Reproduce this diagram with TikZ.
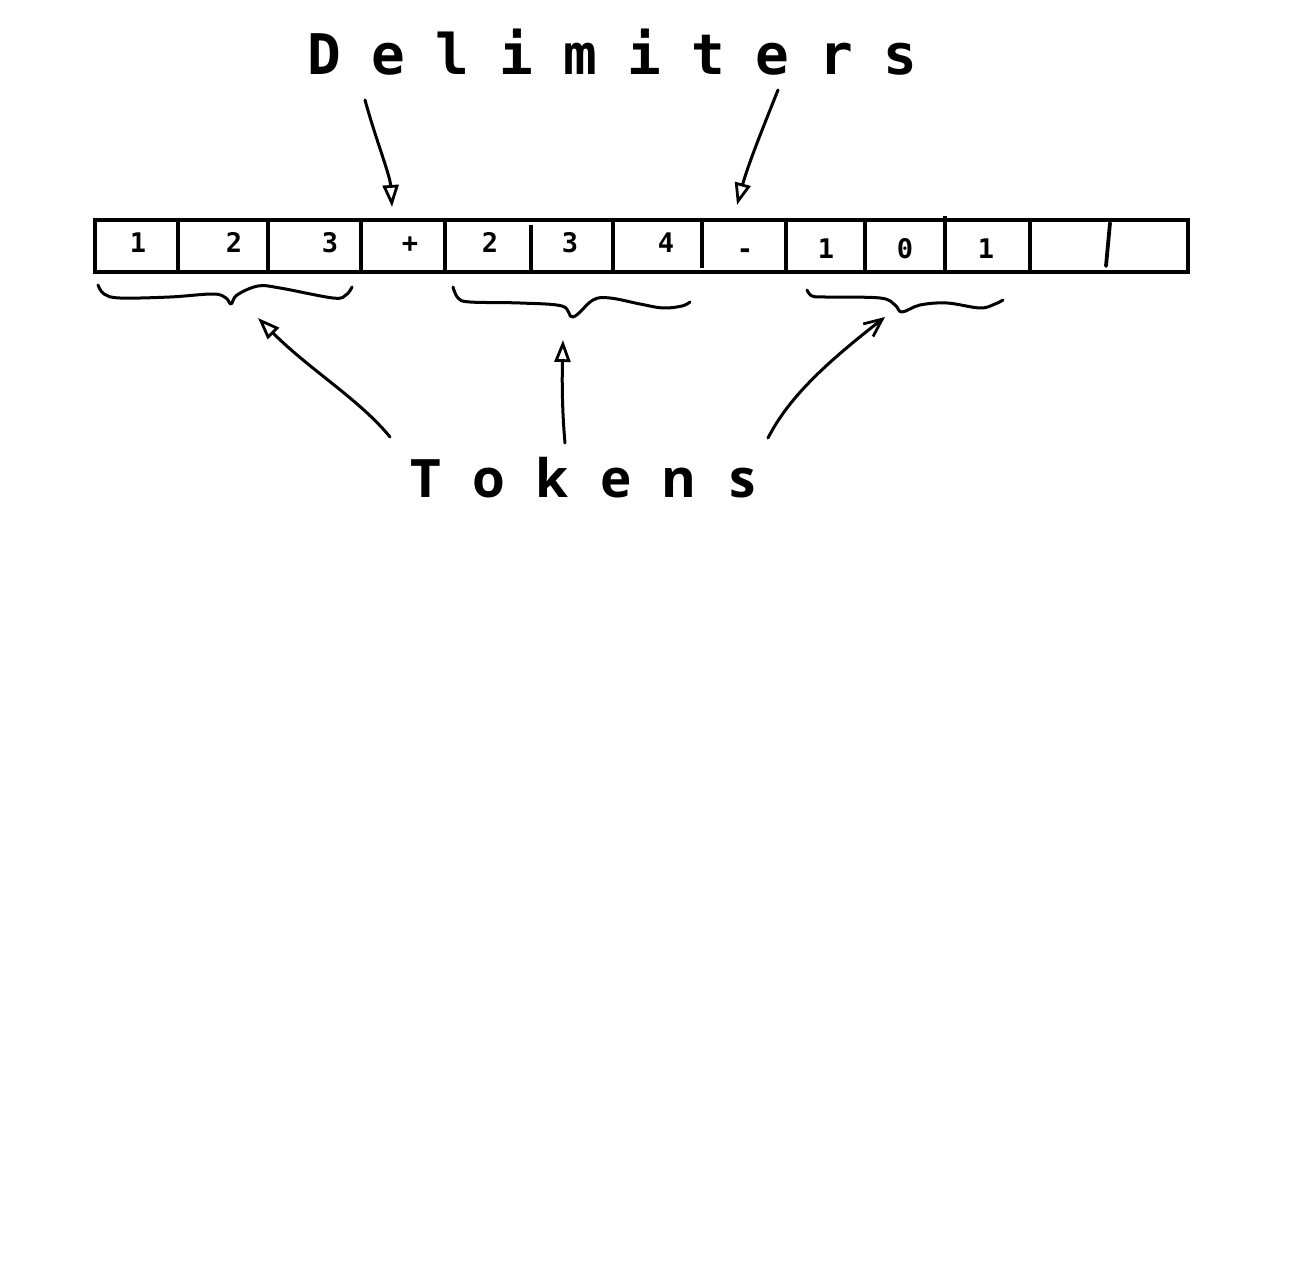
\documentclass[tikz,border=0pt]{standalone}
\usepackage{fontspec}
\usetikzlibrary{arrows.meta}
\newfontfamily\monofam{DejaVu Sans Mono}
\newfontfamily\tokfam{Open Sans}
\newcommand\dletter[1]{\makebox[32pt][c]{#1}}
\newcommand\tletter[1]{\makebox[31.7pt][c]{#1}}
\tikzset{
  cellbox/.style={line width=2.4pt},
  divider/.style={line width=2.2pt},
  digit/.style={anchor=base, inner sep=0pt, font=\monofam\bfseries\fontsize{13.5pt}{15pt}\selectfont},
  bigmono/.style={anchor=base, inner sep=0pt, font=\monofam\bfseries\fontsize{28pt}{30pt}\selectfont},
  bigsans/.style={anchor=base, inner sep=0pt, font=\tokfam\bfseries\fontsize{26.5pt}{28pt}\selectfont},
  bracepath/.style={line width=1.5pt, line cap=round, line join=round},
  handarrow/.style={line width=1.5pt, line cap=round, -{Triangle[open, length=11pt, width=8pt, line width=1.4pt]}},
  barbarrow/.style={line width=1.5pt, line cap=round, -{Straight Barb[length=9pt, width=8pt, line width=1.4pt]}}
}
\begin{document}
\begin{tikzpicture}[x=0.5pt,y=-0.5pt]
\useasboundingbox (0,0) rectangle (1292,1284);
\fill[white] (0,0) rectangle (1292,1284);

% titles
\node[bigmono] (delim) at (612,75) {\dletter{D}\dletter{e}\dletter{l}\dletter{i}\dletter{m}\dletter{i}\dletter{t}\dletter{e}\dletter{r}\dletter{s}};
\node[bigsans] (tokens) at (584,497) {\tletter{T}\tletter{o}\tletter{k}\tletter{e}\tletter{n}\tletter{s}};

% the box
\draw[cellbox] (95,220) rectangle (1188,272);
\foreach \x in {178,268,361,445,613,786,865,1030}
  \draw[divider] (\x,220) -- (\x,272);
\draw[divider] (531,225) -- (531,270);
\draw[divider] (702,220) -- (702,268);
\draw[divider] (945,216) -- (945,272);
\draw[line width=1.9pt, line cap=round] (1110,223) -- (1106,266);

% cell contents
\node[digit] (c1) at (138,253) {1};
\node[digit] (c2) at (234,253) {2};
\node[digit] (c3) at (330,253) {3};
\node[digit] (c4) at (410,253) {+};
\node[digit] (c5) at (490,253) {2};
\node[digit] (c6) at (570,253) {3};
\node[digit] (c7) at (666,253) {4};
\node[digit] (c8) at (745,258) {-};
\node[digit] (c9) at (826,258) {1};
\node[digit] (c10) at (905,258) {0};
\node[digit] (c11) at (986,258) {1};

% braces
\draw[bracepath] plot[smooth, tension=0.6] coordinates {(98,285) (104,294) (120,298) (170,297) (213,294) (226,298) (231,304) (237,295) (258,286) (280,288) (333,298) (346,295) (352,287)};
\draw[bracepath] plot[smooth, tension=0.6] coordinates {(453,287) (458,298) (470,302) (520,303) (562,306) (573,317) (593,300) (610,298) (640,304) (663,308) (682,306) (690,302)};
\draw[bracepath] plot[smooth, tension=0.6] coordinates {(807,290) (812,296) (825,297) (880,298) (895,305) (902,312) (920,305) (947,303) (980,308) (995,304) (1003,300)};

% arrow end points
\coordinate (d1s) at (365,100);
\coordinate (d1e) at (392,207);
\coordinate (d2s) at (778,90);
\coordinate (d2e) at (737,205);
\coordinate (t1s) at (390,437);
\coordinate (t1e) at (258,318);
\coordinate (t2s) at (565,443);
\coordinate (t2e) at (563,340);
\coordinate (t3s) at (768,438);
\coordinate (t3e) at (885,317);

\draw[handarrow] (d1s) .. controls (376,140) and (390,175) .. (d1e);
\draw[handarrow] (d2s) .. controls (762,130) and (748,165) .. (d2e);
\draw[handarrow] (t1s) .. controls (360,400) and (310,370) .. (t1e);
\draw[handarrow] (t2s) .. controls (562,410) and (562,380) .. (t2e);
\draw[barbarrow] (t3s) .. controls (790,395) and (830,360) .. (t3e);
\end{tikzpicture}
\end{document}
